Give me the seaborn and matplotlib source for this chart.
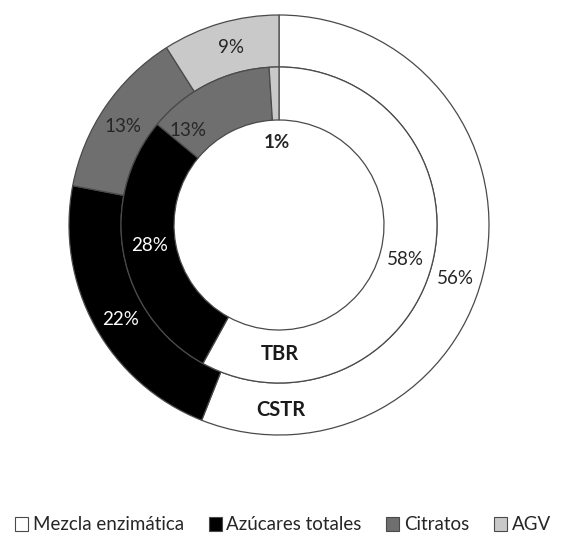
import numpy as np
import matplotlib
matplotlib.use("Agg")
import matplotlib.pyplot as plt
import seaborn as sns
from matplotlib.patches import Patch

# datos
categorias = ["Mezcla enzimática", "Azúcares totales", "Citratos", "AGV"]
cstr = [56, 22, 13, 9]   # anillo exterior
tbr = [58, 28, 13, 1]    # anillo interior
colores = ["#ffffff", "#000000", "#6f6f6f", "#c9c9c9"]
color_texto = ["#262626", "#ffffff", "#262626", "#262626"]

sns.set_theme(style="white")
plt.rcParams["font.family"] = ["Lato", "DejaVu Sans"]

fig = plt.figure(figsize=(5.66, 5.38), dpi=100)
ax = fig.add_axes([64 / 566, 98 / 538, 430 / 566, 430 / 538])

R_ext, R_med, R_int = 210, 158, 105
props = dict(edgecolor="#4a4a4a", linewidth=0.9)


def anillo(valores, radio, ancho, ajustes):
    wedges, _ = ax.pie(valores, radius=radio, colors=colores, startangle=90,
                       counterclock=False, wedgeprops=dict(width=ancho, **props))
    r_mid = radio - ancho / 2
    for w, v, c, (d_ang, r) in zip(wedges, valores, color_texto, ajustes):
        ang = np.deg2rad((w.theta1 + w.theta2) / 2 + d_ang)
        rr = r_mid if r is None else r
        peso = "bold" if r is not None else "normal"
        ax.text(rr * np.cos(ang), rr * np.sin(ang), f"{v}%", ha="center",
                va="center", color=c, fontsize=13.5, fontweight=peso)
    return wedges


anillo(cstr, R_ext, R_ext - R_med, [(-6, None), (2, None), (2, None), (-1, None)])
anillo(tbr, R_med, R_med - R_int, [(-1, None), (-2, None), (17, None), (0, 83)])

ax.text(1, -(R_med + R_int) / 2 + 2, "TBR", ha="center", va="center",
        fontsize=14.5, fontweight="bold", color="#1a1a1a")
ax.text(2, -(R_ext + R_med) / 2 - 1, "CSTR", ha="center", va="center",
        fontsize=14.5, fontweight="bold", color="#1a1a1a")

ax.set_xlim(-215, 215)
ax.set_ylim(-215, 215)
ax.set_aspect("equal")
ax.axis("off")

handles = [Patch(facecolor=c, edgecolor="#4a4a4a", linewidth=0.8) for c in colores]
fig.legend(handles, categorias, loc="center", bbox_to_anchor=(0.5, 1 - 525 / 538),
           ncol=4, frameon=False, fontsize=13.5, handlelength=0.7, handleheight=0.7,
           handletextpad=0.25, columnspacing=1.3)

fig.savefig("out.png", dpi=100)
